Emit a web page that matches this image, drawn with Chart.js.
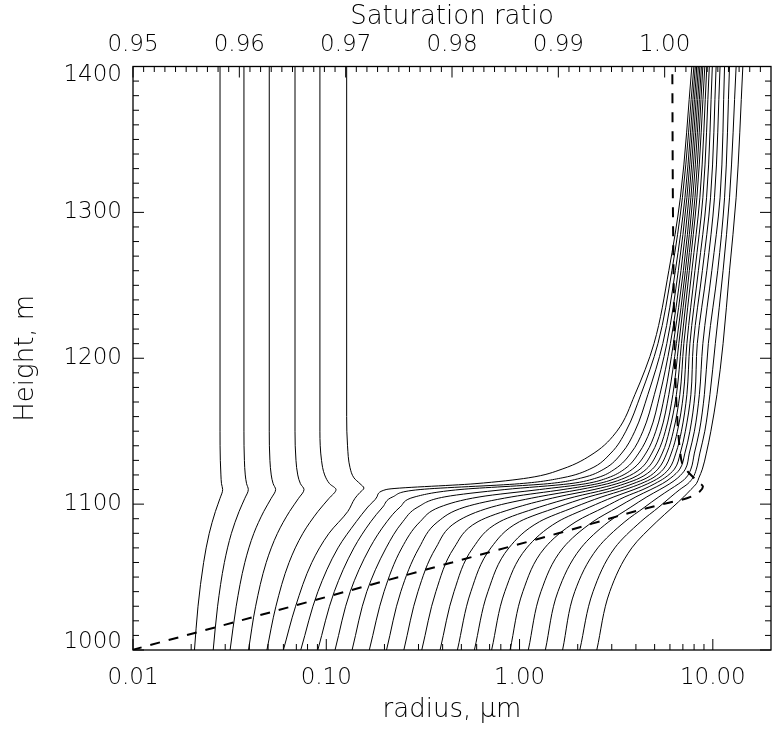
<!DOCTYPE html>
<html>
<head>
<meta charset="utf-8">
<script src="https://cdn.jsdelivr.net/npm/chart.js@4.4.1/dist/chart.umd.min.js"></script>
<style>
  html, body { margin: 0; padding: 0; background: #fff; }
</style>
</head>
<body>
<canvas id="chart" width="772" height="735"></canvas>
<script>
// heights (m) at which the small, never-activated droplets were read
const hazeHeights = [1000, 1030, 1060, 1080, 1095, 1104, 1110, 1114, 1120, 1130, 1150, 1400];
const hazeRadii = [
  [0.0208, 0.0217, 0.0232, 0.0248, 0.0267, 0.0282, 0.0291, 0.0287, 0.0285, 0.0283, 0.0282, 0.0282],
  [0.0260, 0.0274, 0.0297, 0.0323, 0.0354, 0.0379, 0.0395, 0.0387, 0.0381, 0.0377, 0.0375, 0.0375],
  [0.0318, 0.0342, 0.0379, 0.0422, 0.0475, 0.0519, 0.0547, 0.0531, 0.0519, 0.0511, 0.0507, 0.0507],
  [0.0396, 0.0431, 0.0489, 0.0559, 0.0646, 0.0719, 0.0767, 0.0735, 0.0712, 0.0697, 0.0689, 0.0689],
  [0.0493, 0.0549, 0.0642, 0.0757, 0.0906, 0.1034, 0.1123, 0.1040, 0.0981, 0.0945, 0.0927, 0.0927]
];

// the largest droplet that does not activate (hook near cloud base)
const hookHeights = [1000, 1030, 1060, 1080, 1095, 1104, 1108, 1111, 1114, 1118, 1125, 1140, 1160, 1400];
const hookRadii = [0.0600, 0.0694, 0.0842, 0.1033, 0.1293, 0.1408, 0.1494, 0.1566, 0.1494, 0.1391, 0.1327, 0.1288, 0.1275, 0.1275];

// activated droplets
const grownHeights = [1000, 1040, 1070, 1088, 1098, 1105, 1110, 1114, 1118, 1124, 1135, 1150, 1175, 1210, 1260, 1310, 1400];
const grownRadii = [
  [0.0738, 0.0905, 0.115, 0.143, 0.164, 0.183, 0.204, 0.588, 1.11, 1.66, 2.43, 3.19, 3.95, 4.96, 5.92, 6.79, 7.79],
  [0.0904, 0.110, 0.139, 0.170, 0.196, 0.221, 0.306, 1.00, 1.66, 2.31, 2.97, 3.55, 4.24, 5.20, 6.14, 6.96, 7.98],
  [0.111, 0.133, 0.168, 0.206, 0.241, 0.288, 0.492, 1.40, 2.10, 2.73, 3.38, 3.95, 4.61, 5.51, 6.40, 7.17, 8.12],
  [0.136, 0.162, 0.204, 0.249, 0.298, 0.411, 0.839, 1.82, 2.51, 3.11, 3.77, 4.35, 4.98, 5.78, 6.63, 7.34, 8.27],
  [0.167, 0.199, 0.246, 0.306, 0.387, 0.624, 1.27, 2.20, 2.86, 3.49, 4.14, 4.73, 5.32, 6.03, 6.84, 7.52, 8.42],
  [0.205, 0.243, 0.302, 0.378, 0.522, 0.913, 1.68, 2.54, 3.19, 3.84, 4.51, 5.07, 5.64, 6.25, 7.04, 7.70, 8.57],
  [0.252, 0.298, 0.369, 0.474, 0.719, 1.25, 2.05, 2.86, 3.51, 4.20, 4.84, 5.38, 5.92, 6.48, 7.21, 7.88, 8.73],
  [0.312, 0.369, 0.458, 0.610, 0.981, 1.58, 2.43, 3.19, 3.86, 4.53, 5.16, 5.68, 6.21, 6.67, 7.38, 8.08, 8.88],
  [0.388, 0.458, 0.574, 0.791, 1.27, 1.93, 2.80, 3.51, 4.20, 4.87, 5.48, 5.95, 6.48, 6.88, 7.56, 8.27, 9.09],
  [0.477, 0.560, 0.711, 1.00, 1.58, 2.28, 3.15, 3.86, 4.56, 5.20, 5.78, 6.25, 6.75, 7.08, 7.79, 8.57, 9.31],
  [0.584, 0.686, 0.881, 1.27, 1.93, 2.67, 3.51, 4.24, 4.90, 5.55, 6.10, 6.56, 7.04, 7.34, 8.08, 8.88, 9.59],
  [0.717, 0.839, 1.09, 1.58, 2.31, 3.08, 3.91, 4.61, 5.26, 5.92, 6.44, 6.88, 7.34, 7.61, 8.42, 9.28, 9.94],
  [0.893, 1.04, 1.35, 1.96, 2.76, 3.51, 4.35, 5.01, 5.64, 6.33, 6.79, 7.21, 7.70, 7.93, 8.83, 9.73, 10.4],
  [1.11, 1.29, 1.68, 2.40, 3.23, 4.00, 4.78, 5.48, 6.07, 6.75, 7.17, 7.61, 8.08, 8.31, 9.31, 10.2, 10.9],
  [1.36, 1.58, 2.08, 2.90, 3.77, 4.56, 5.32, 5.99, 6.59, 7.21, 7.56, 8.03, 8.52, 8.88, 9.88, 10.9, 11.5],
  [1.67, 1.93, 2.54, 3.51, 4.45, 5.26, 5.99, 6.67, 7.26, 7.70, 8.03, 8.52, 9.04, 9.48, 10.6, 11.5, 12.2],
  [2.05, 2.40, 3.11, 4.24, 5.26, 6.07, 6.75, 7.43, 7.88, 8.22, 8.57, 9.09, 9.66, 10.3, 11.3, 12.2, 13.2],
  [2.51, 2.93, 3.81, 5.13, 6.21, 7.08, 7.70, 8.22, 8.47, 8.83, 9.26, 9.77, 10.5, 11.3, 12.2, 13.2, 14.3]
];

// saturation ratio profile (dashed, top axis)
const satHeights = [1000, 1020, 1040, 1060, 1080, 1096, 1101, 1103, 1105.2, 1108.6, 1112, 1115.3, 1122, 1127, 1137, 1152, 1170, 1200, 1250, 1300, 1400];
const satRatio = [0.9499, 0.9600, 0.9700, 0.9800, 0.9900, 0.9977, 1.0004, 1.0016, 1.0025, 1.0033, 1.0036, 1.00315, 1.0022, 1.0017, 1.00144, 1.00125, 1.0011, 1.00095, 1.00085, 1.00078, 1.00072];

const radiusTicks = [0.01, 0.1, 1, 10];
const satTicks = [0.95, 0.96, 0.97, 0.98, 0.99, 1.00];
const heightTicks = [1000, 1100, 1200, 1300, 1400];

const FAMILY = "'DejaVu Sans', 'Liberation Sans', sans-serif";
const tickFont = { family: FAMILY, size: 23, weight: '200' };
// small line height: used to nudge the end labels of the height axis inwards
const yTickFont = { family: FAMILY, size: 23, weight: '200', lineHeight: 0.72 };
const titleFont = { family: FAMILY, size: 26, weight: '200' };

const toPoints = (xs, hs) => xs.map((x, i) => ({ x, y: hs[i] }));

const solid = (radii, heights) => ({
    data: toPoints(radii, heights),
    xAxisID: 'x',
    yAxisID: 'y',
    borderColor: '#000',
    borderWidth: 1
});

const datasets = [];
hazeRadii.forEach(r => datasets.push(solid(r, hazeHeights)));
datasets.push(solid(hookRadii, hookHeights));
grownRadii.forEach(r => datasets.push(solid(r, grownHeights)));
datasets.push({
    data: toPoints(satRatio, satHeights),
    xAxisID: 'x2',
    yAxisID: 'y',
    borderColor: '#000',
    borderWidth: 2,
    borderDash: [10, 9]
});

// IDL style: box round the plot, ticks pointing inwards
const tickMarks = {
    id: 'tickMarks',
    afterDatasetsDraw(chart) {
        const { ctx, chartArea: a } = chart;
        const sx = chart.scales.x, st = chart.scales.x2, sy = chart.scales.y;
        ctx.save();
        ctx.strokeStyle = '#000';
        ctx.lineWidth = 1;
        ctx.beginPath();
        const vTick = (px, len) => {
            ctx.moveTo(px, a.bottom); ctx.lineTo(px, a.bottom - len);
        };
        const tTick = (px, len) => {
            ctx.moveTo(px, a.top); ctx.lineTo(px, a.top + len);
        };
        const hTick = (py, len) => {
            ctx.moveTo(a.left, py); ctx.lineTo(a.left + len, py);
            ctx.moveTo(a.right, py); ctx.lineTo(a.right - len, py);
        };
        radiusTicks.forEach(d => {
            vTick(sx.getPixelForValue(d), 11);
            for (let m = 2; m <= 9; m++) {
                const v = m * d;
                if (v < sx.max) vTick(sx.getPixelForValue(v), 6);
            }
        });
        for (let k = 0; k < 60; k++) {
            const v = 0.95 + k * 0.001;
            tTick(st.getPixelForValue(v), k % 10 === 0 ? 11 : 5.5);
        }
        for (let h = 1000; h <= 1400; h += 10) {
            hTick(sy.getPixelForValue(h), h % 100 === 0 ? 11 : 6);
        }
        ctx.stroke();
        ctx.lineWidth = 1.3;
        ctx.strokeRect(a.left, a.top, a.right - a.left, a.bottom - a.top);
        ctx.restore();
    }
};

new Chart(document.getElementById('chart').getContext('2d'), {
    type: 'line',
    data: { datasets },
    options: {
        indexAxis: 'y',
        responsive: false,
        animation: false,
        layout: { padding: { left: 0, right: 1, top: 0, bottom: 0 } },
        elements: {
            point: { radius: 0 },
            line: { cubicInterpolationMode: 'monotone', fill: false }
        },
        plugins: { legend: { display: false }, tooltip: { enabled: false } },
        scales: {
            x: {
                type: 'logarithmic',
                position: 'bottom',
                min: 0.01,
                max: 20,
                grid: { display: false, drawTicks: false },
                border: { display: false },
                afterBuildTicks: s => { s.ticks = radiusTicks.map(v => ({ value: v })); },
                afterFit: s => { s.height = 85; },
                ticks: {
                    autoSkip: false, maxRotation: 0, padding: 14,
                    color: '#000', font: tickFont,
                    callback: v => Number(v).toFixed(2)
                },
                title: {
                    display: true, text: 'radius, \u03bcm', color: '#000',
                    font: titleFont, padding: { top: 0, bottom: 9 }
                }
            },
            x2: {
                type: 'linear',
                position: 'top',
                min: 0.95,
                max: 1.01,
                grid: { display: false, drawTicks: false },
                border: { display: false },
                afterBuildTicks: s => { s.ticks = satTicks.map(v => ({ value: v })); },
                afterFit: s => { s.height = 66.5; },
                ticks: {
                    autoSkip: false, maxRotation: 0, padding: 8,
                    color: '#000', font: tickFont,
                    callback: v => Number(v).toFixed(2)
                },
                title: {
                    display: true, text: 'Saturation ratio', color: '#000',
                    font: titleFont, padding: { top: 2, bottom: 0 }
                }
            },
            y: {
                type: 'linear',
                position: 'left',
                min: 1000,
                max: 1400,
                grid: { display: false, drawTicks: false },
                border: { display: false },
                afterBuildTicks: s => { s.ticks = heightTicks.map(v => ({ value: v })); },
                afterFit: s => { s.width = 133; },
                ticks: {
                    autoSkip: false, padding: 11,
                    color: '#000', font: yTickFont,
                    callback: v => {
                        if (v === 1400) return ['', String(v)];
                        if (v === 1000) return [String(v), ''];
                        return String(v);
                    }
                },
                title: {
                    display: true, text: 'Height, m', color: '#000',
                    font: titleFont, padding: { top: 11, bottom: 0 }
                }
            }
        }
    },
    plugins: [tickMarks]
});
</script>
</body>
</html>
